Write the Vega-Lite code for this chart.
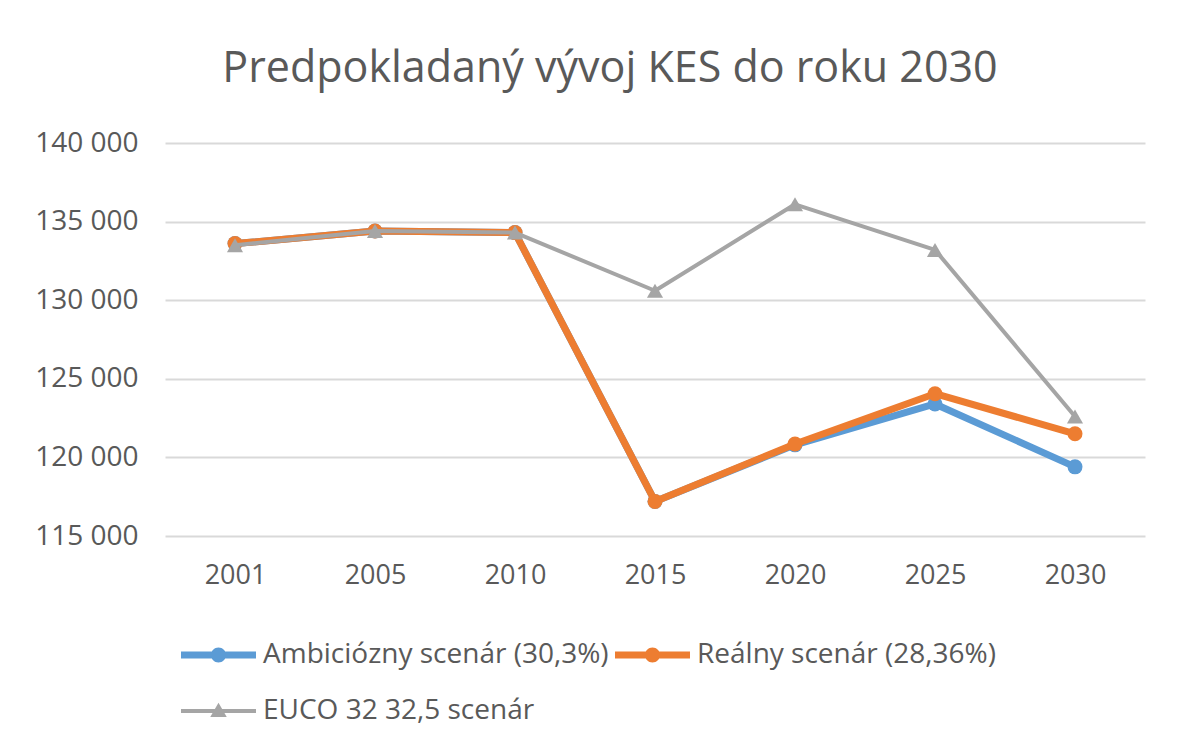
{
  "$schema": "https://vega.github.io/schema/vega-lite/v6.json",
  "width": 980,
  "height": 393,
  "autosize": {"type": "none"},
  "padding": {"left": 165, "top": 143, "right": 49, "bottom": 213},
  "background": "white",
  "title": {
    "text": "Predpokladaný vývoj KES do roku 2030",
    "fontSize": 43,
    "font": "Open Sans",
    "fontWeight": "normal",
    "color": "#595959",
    "anchor": "middle",
    "dx": -45,
    "offset": 38
  },
  "config": {
    "view": {"stroke": null},
    "font": "Open Sans"
  },
  "data": {
    "values": [
      {"year": "2001", "series": "Ambiciózny scenár (30,3%)", "value": 133600},
      {"year": "2005", "series": "Ambiciózny scenár (30,3%)", "value": 134400},
      {"year": "2010", "series": "Ambiciózny scenár (30,3%)", "value": 134300},
      {"year": "2015", "series": "Ambiciózny scenár (30,3%)", "value": 117200},
      {"year": "2020", "series": "Ambiciózny scenár (30,3%)", "value": 120800},
      {"year": "2025", "series": "Ambiciózny scenár (30,3%)", "value": 123400},
      {"year": "2030", "series": "Ambiciózny scenár (30,3%)", "value": 119400},
      {"year": "2001", "series": "Reálny scenár (28,36%)", "value": 133600},
      {"year": "2005", "series": "Reálny scenár (28,36%)", "value": 134400},
      {"year": "2010", "series": "Reálny scenár (28,36%)", "value": 134300},
      {"year": "2015", "series": "Reálny scenár (28,36%)", "value": 117200},
      {"year": "2020", "series": "Reálny scenár (28,36%)", "value": 120850},
      {"year": "2025", "series": "Reálny scenár (28,36%)", "value": 124050},
      {"year": "2030", "series": "Reálny scenár (28,36%)", "value": 121500},
      {"year": "2001", "series": "EUCO 32 32,5 scenár", "value": 133500},
      {"year": "2005", "series": "EUCO 32 32,5 scenár", "value": 134400},
      {"year": "2010", "series": "EUCO 32 32,5 scenár", "value": 134300},
      {"year": "2015", "series": "EUCO 32 32,5 scenár", "value": 130600},
      {"year": "2020", "series": "EUCO 32 32,5 scenár", "value": 136100},
      {"year": "2025", "series": "EUCO 32 32,5 scenár", "value": 133200},
      {"year": "2030", "series": "EUCO 32 32,5 scenár", "value": 122600}
    ]
  },
  "encoding": {
    "x": {
      "field": "year",
      "type": "ordinal",
      "sort": null,
      "scale": {"type": "point", "padding": 0.5},
      "axis": {
        "title": null,
        "labelAngle": 0,
        "ticks": false,
        "domain": false,
        "grid": false,
        "labelFontSize": 27,
        "labelColor": "#595959",
        "labelPadding": 26,
        "labelFont": "Open Sans"
      }
    },
    "y": {
      "field": "value",
      "type": "quantitative",
      "scale": {"domain": [115000, 140000], "nice": false, "zero": false},
      "axis": {
        "title": null,
        "values": [115000, 120000, 125000, 130000, 135000, 140000],
        "labelExpr": "replace(format(datum.value, ',d'), ',', ' ')",
        "ticks": false,
        "domain": false,
        "grid": true,
        "gridColor": "#d9d9d9",
        "gridWidth": 2,
        "labelFontSize": 28,
        "labelColor": "#595959",
        "labelPadding": 27,
        "labelFont": "Open Sans"
      }
    },
    "color": {
      "field": "series",
      "type": "nominal",
      "scale": {
        "domain": ["Ambiciózny scenár (30,3%)", "Reálny scenár (28,36%)", "EUCO 32 32,5 scenár"],
        "range": ["#5b9bd5", "#ed7d31", "#a5a5a5"]
      },
      "legend": {
        "title": null,
        "orient": "none",
        "legendX": 16,
        "legendY": 497,
        "direction": "horizontal",
        "columns": 2,
        "padding": 0,
        "columnPadding": 6,
        "rowPadding": 27,
        "symbolSize": 900,
        "symbolStrokeWidth": 0,
        "labelOffset": 52,
        "labelFontSize": 28,
        "labelFont": "Open Sans",
        "labelColor": "#595959",
        "labelLimit": 600,
        "encode": {
          "symbols": {
            "update": {
              "shape": {"signal": "datum.value === 'EUCO 32 32,5 scenár' ? 'M-1,-0.133 H4 V0.133 H-1 Z M1.5,-0.55 L2.05,0.4 L0.95,0.4 Z' : 'M-1,-0.233 H4 V0.233 H-1 Z M2,0 A0.5,0.5 0 1,1 1,0 A0.5,0.5 0 1,1 2,0 Z'"},
              "fill": {"scale": "color", "field": "value"},
              "stroke": {"value": "transparent"},
              "strokeWidth": {"value": 0},
              "size": {"value": 900},
              "opacity": {"value": 1}
            }
          }
        }
      }
    }
  },
  "layer": [
    {
      "transform": [{"filter": "datum.series === 'Ambiciózny scenár (30,3%)'"}],
      "mark": {"type": "line", "strokeWidth": 7, "strokeJoin": "round", "strokeCap": "round"}
    },
    {
      "transform": [{"filter": "datum.series === 'Ambiciózny scenár (30,3%)'"}],
      "mark": {"type": "point", "filled": true, "shape": "circle", "size": 225, "opacity": 1}
    },
    {
      "transform": [{"filter": "datum.series === 'Reálny scenár (28,36%)'"}],
      "mark": {"type": "line", "strokeWidth": 7, "strokeJoin": "round", "strokeCap": "round"}
    },
    {
      "transform": [{"filter": "datum.series === 'Reálny scenár (28,36%)'"}],
      "mark": {"type": "point", "filled": true, "shape": "circle", "size": 225, "opacity": 1}
    },
    {
      "transform": [{"filter": "datum.series === 'EUCO 32 32,5 scenár'"}],
      "mark": {"type": "line", "strokeWidth": 4, "strokeJoin": "round"}
    },
    {
      "transform": [{"filter": "datum.series === 'EUCO 32 32,5 scenár'"}],
      "mark": {"type": "point", "filled": true, "shape": "triangle-up", "size": 260, "opacity": 1}
    }
  ]
}
